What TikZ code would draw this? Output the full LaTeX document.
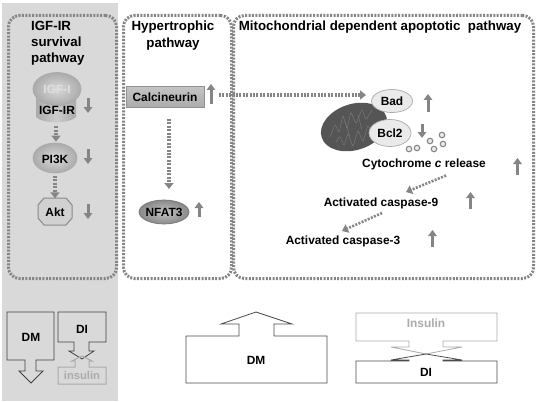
\documentclass[tikz,border=0pt]{standalone}
\usepackage{fontspec}
\setmainfont{Liberation Sans}
\usetikzlibrary{arrows.meta,shapes.geometric}
\definecolor{panel}{HTML}{D9D9D9}
\definecolor{dotline}{HTML}{858585}
\definecolor{mito}{HTML}{555555}
\definecolor{faded}{HTML}{ABABAB}
\definecolor{bubcore}{HTML}{DADADA}
\definecolor{bubrim}{HTML}{ABABAB}
\definecolor{crista}{HTML}{7A7A7A}
\tikzset{
  lab/.style={font=\fontsize{13.3}{14}\selectfont\bfseries,text=black,inner sep=0pt},
  labs/.style={font=\fontsize{11.9}{14}\selectfont\bfseries,text=black,inner sep=0pt},
  pathbox/.style={draw=dotline,line width=3pt,dash pattern=on 2pt off 1.4pt,rounded corners=11pt,inner sep=0pt,anchor=north west},
  dotarrow/.style={draw=dotline,line width=3.2pt,dash pattern=on 2pt off 1.4pt,-{Triangle[length=6pt,width=9pt]}},
  indicator/.style={draw=dotline,line width=3pt,-{Triangle[length=6pt,width=8.5pt]}},
  bubble/.style={ellipse,inner sep=0pt,draw=#1,line width=.7pt},
  outl/.style={draw=#1,line width=.8pt,line join=miter,fill=none},
  vesicle/.style={circle,draw=dotline,line width=1.1pt,fill=panel!50,minimum size=5.5pt,inner sep=0pt},
}
% Short up or down change marker, named so that both ends stay addressable
\newcommand{\marker}[4]{%
  \coordinate (#1a) at (#2,#3);
  \coordinate (#1b) at (#2,#4);
  \draw[indicator] (#1a) -- (#1b);}
\begin{document}
\begin{tikzpicture}[x=1pt,y=-1pt]
\useasboundingbox (0,0) rectangle (537,401);
\fill[white] (0,0) rectangle (537,401);
\fill[panel] (2,3) rectangle (118,401);

% pathway frames
\node[pathbox,minimum width=108pt,minimum height=263pt] (boxa) at (7,14) {};
\node[pathbox,minimum width=108pt,minimum height=263pt] (boxb) at (122,14) {};
\node[pathbox,minimum width=300pt,minimum height=263pt] (boxc) at (232,14) {};

% frame titles
\node[lab,align=left,anchor=north west,font=\fontsize{13.3}{16.2}\selectfont\bfseries] (titlea) at (31,21) {IGF-IR\\survival\\pathway};
\node[lab,align=center,anchor=north,font=\fontsize{13.3}{16.2}\selectfont\bfseries] (titleb) at (173,21) {Hypertrophic\\pathway};
\node[lab] (titlec) at (380,27) {Mitochondrial dependent apoptotic\ \ pathway};

% IGF-IR survival branch
\shade[left color=bubrim,right color=bubrim,middle color=bubcore!70!bubrim]
  (36,92) -- (76,92) -- (76,117) .. controls (70,124) and (42,124) .. (36,117) -- cycle;
\node[bubble=faded,shading=radial,inner color=bubcore,outer color=bubrim,minimum width=48pt,minimum height=33pt] (igfi) at (57,89) {};
\node[labs,text=panel!85!white] (igfilab) at (57,89) {IGF-I};
\node[labs,minimum width=40pt,minimum height=24pt] (igfir) at (57,110) {IGF-IR};
\node[bubble=faded,shading=radial,inner color=bubcore,outer color=bubrim,minimum width=44pt,minimum height=30pt] (pik) at (55,158) {};
\node[labs] (piklab) at (55,159) {PI3K};
\draw[faded!80!black,line width=1pt,fill=bubcore!80!bubrim] (44,198) -- (66,198) -- (72,205) -- (72,218) -- (66,225) -- (44,225) -- (38,218) -- (38,205) -- cycle;
\node[labs,minimum width=34pt,minimum height=27pt] (akt) at (55,212) {Akt};
\draw[dotarrow,shorten <=1pt,shorten >=1pt] (igfir.south) ++(-1,3) -- (pik.north -| 56,0);
\draw[dotarrow] (55,176) -- (akt.north);
\marker{ma}{88}{98}{113}
\marker{mb}{88}{149}{164}
\marker{mc}{88}{204}{219}

% hypertrophic branch
\node[labs,draw=faded!85!black,line width=.8pt,top color=faded!70!white,bottom color=faded,minimum width=78pt,minimum height=21pt] (calc) at (165,97) {Calcineurin};
\node[bubble=faded!70!black,shading=radial,inner color=bubcore!90!black,outer color=bubrim!80!black,minimum width=50pt,minimum height=24pt] (nfat) at (164,212) {};
\node[labs] (nfatlab) at (164,212.5) {NFAT3};
\coordinate (nfatin) at (169,119);
\coordinate (nfatend) at (169,189);
\draw[dotarrow] (nfatin) -- (nfatend);
\marker{md}{211}{104}{84}
\marker{me}{199}{217}{202}

% mitochondrion with its cristae
\node[ellipse,rotate=18,fill=mito,minimum width=68pt,minimum height=46pt,inner sep=0pt] (mit) at (354,127) {};
\begin{scope}[draw=crista,line width=.45pt,line join=round,rounded corners=1.2pt]
  \draw (330,137) -- (335,124) -- (339,133) -- (343,115) -- (347,129) -- (351,112) -- (356,124) -- (362,109) -- (366,120) -- (372,110);
  \draw (336,142) -- (340,136) -- (344,146) -- (348,133) -- (353,147) -- (358,130) -- (363,142) -- (368,125) -- (372,137);
  \draw (345,121) -- (350,137) (358,115) -- (362,130);
\end{scope}
\coordinate (badin) at (366,95);
\coordinate (calcout) at (219,95);
\draw[dotarrow] (calcout) -- (badin);
\node[bubble=faded,fill=panel!55!white,minimum width=41pt,minimum height=23pt] (bad) at (392,101) {};
\node[labs] (badlab) at (392,101) {Bad};
\node[bubble=faded,fill=panel!55!white,minimum width=42pt,minimum height=27pt] (bcl) at (390,133) {};
\node[labs] (bcllab) at (390,133) {Bcl2};
\marker{mf}{428}{112}{94}
\marker{mg}{422}{124}{138}
\foreach \n/\x/\y in {v1/409/149,v2/417/148,v3/430/141,v4/434/149,v5/442/135,v6/443/144}
  \node[vesicle] (\n) at (\x,\y) {};

% apoptosis cascade
\node[labs] (cyto) at (424,164.5) {Cytochrome \textit{c} release};
\node[labs] (casn) at (381,203) {Activated caspase-9};
\node[labs] (cast) at (343,241) {Activated caspase-3};
\coordinate (cytoout) at (446,175.5);
\coordinate (casnin) at (406,192);
\coordinate (casnout) at (382,213);
\coordinate (castin) at (342,231);
\draw[dotarrow,line width=2.6pt] (cytoout) -- (casnin);
\draw[dotarrow,line width=2.6pt] (casnout) -- (castin);
\marker{mh}{517.5}{175}{158}
\marker{mi}{470.5}{209}{192}
\marker{mj}{432.5}{247}{230}

% block arrows, gray panel
\draw[outl=black!75] (7,312) -- (54,312) -- (54,360) -- (36,360) -- (36,371) -- (43,371) -- (31,383) -- (19,371) -- (25,371) -- (25,360) -- (7,360) -- cycle;
\node[labs] (dma) at (31,337) {DM};
\draw[outl=black!75] (58,312) -- (106,312) -- (106,342) -- (89,342) -- (89,351) -- (94,351) -- (82,359) -- (69,351) -- (74,351) -- (74,342) -- (58,342) -- cycle;
\node[labs] (dia) at (82,329) {DI};
\draw[outl=faded,line width=1pt] (72,361) -- (75,361) -- (75,367) -- (58,367) -- (58,384) -- (106,384) -- (106,367) -- (89,367) -- (89,361) -- (92,361) -- (82,356) -- cycle;
\node[labs,text=faded,font=\fontsize{11.2}{14}\selectfont\bfseries] (insa) at (82,375.5) {insulin};

% block arrows, right side
\draw[outl=black!70] (186,336) -- (239,336) -- (239,324) -- (221,324) -- (256,312) -- (292,324) -- (274,324) -- (274,336) -- (327,336) -- (327,383) -- (186,383) -- cycle;
\node[labs] (dmb) at (256,360) {DM};
\draw[outl=faded] (356,313) -- (497,313) -- (497,341) -- (443,341) -- (443,347) -- (462,347) -- (426,354) -- (391,347) -- (409,347) -- (409,341) -- (356,341) -- cycle;
\node[labs,text=faded] (insb) at (426,323.5) {Insulin};
\draw[outl=black!70] (356,361) -- (409,361) -- (409,360) -- (391,360) -- (426,354) -- (462,360) -- (443,360) -- (443,361) -- (497,361) -- (497,383) -- (356,383) -- cycle;
\node[labs] (dib) at (426,372.5) {DI};
\end{tikzpicture}
\end{document}
